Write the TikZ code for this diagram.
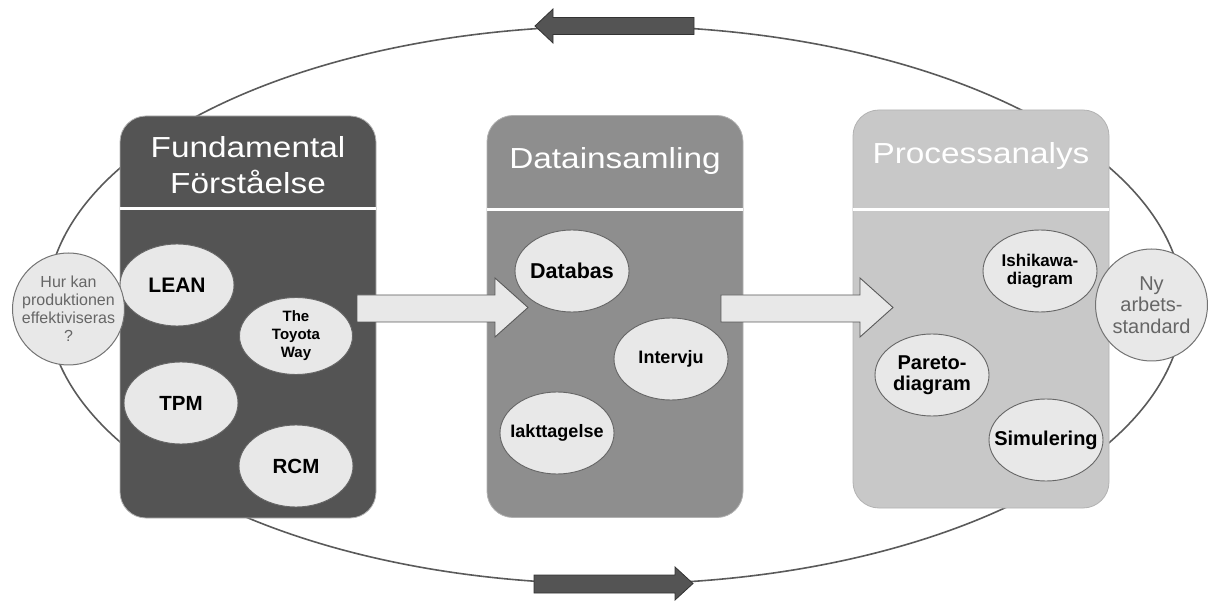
\documentclass[tikz,border=0pt]{standalone}
\usepackage{fontspec}
\setmainfont{Liberation Sans}
\newfontfamily\titlefont[FakeStretch=1.15]{Liberation Sans}
\usetikzlibrary{shapes.geometric}
\definecolor{cdark}{HTML}{545454}
\definecolor{cmid}{HTML}{8E8E8E}
\definecolor{clight}{HTML}{C8C8C8}
\definecolor{cpale}{HTML}{E8E8E8}
\definecolor{cline}{HTML}{5A5A5A}
\definecolor{ctext}{HTML}{666666}
\tikzset{
  phase/.style={fill=#1, draw=black!30, line width=0.8pt, rounded corners=26pt, minimum width=256pt, minimum height=402pt, inner sep=0pt},
  bubble/.style={ellipse, fill=cpale, draw=black!60, line width=0.9pt, minimum width=114pt, minimum height=82pt, inner xsep=-30pt, inner ysep=-15pt, align=center, font=\bfseries\fontsize{#1}{#1}\selectfont},
  bubble/.default=20,
  goal/.style={circle, fill=cpale, draw=black!55, line width=1pt, minimum size=112pt, inner sep=-12pt, align=center, text=ctext, font=\fontsize{#1}{#1}\selectfont},
  title/.style={text=white, align=center, font=\titlefont\fontsize{29}{29}\selectfont},
  divider/.style={draw=white, line width=3pt},
  block/.style={fill=cpale, draw=black!65, line width=0.9pt},
  flow/.style={fill=cdark, draw=black!80, line width=0.8pt},
}
\begin{document}
\begin{tikzpicture}[x=1pt, y=-1pt,
  orbit/.style={ellipse, draw=cline, line width=1.6pt, minimum width=1136pt, minimum height=558pt, inner sep=0pt}]
  \useasboundingbox (0,0) rectangle (1208,601);
  \node[orbit] (loop) at (615,305) {};
  % the three phases
  \node[phase=cdark] (b1) at (248,317) {};
  \node[phase=cmid] (b2) at (615,316.5) {};
  \node[phase=clight, minimum height=398pt] (b3) at (981,309) {};
  \draw[divider] (b1.west |- 0,209) -- (b1.east |- 0,209);
  \draw[divider] (b2.west |- 0,210) -- (b2.east |- 0,210);
  \draw[divider] (b3.west |- 0,210) -- (b3.east |- 0,210);
  \node[title] (t1) at (248,165) {Fundamental\\[7pt]Förståelse};
  \node[title] (t2) at (615,161) {Datainsamling};
  \node[title] (t3) at (981,156) {Processanalys};
  % contents
  \node[bubble=21] (lean) at (177,285) {LEAN};
  \node[bubble=15, minimum height=77pt, minimum width=113pt] (toyota) at (296,336) {The\\[3pt]Toyota\\[3pt]Way};
  \node[bubble=20.5] (tpm) at (181,403) {TPM};
  \node[bubble=20.5] (rcm) at (296,466) {RCM};
  \node[bubble=21.5] (db) at (572,271) {Databas};
  \node[bubble=18] (iv) at (671,359) {Intervju};
  \node[bubble=18] (ia) at (557,433) {Iakttagelse};
  \node[bubble=17] (ishi) at (1040,271) {Ishikawa-\\[0.5pt]diagram};
  \node[bubble=20] (par) at (932,375) {Pareto-\\[1.5pt]diagram};
  \node[bubble=20] (sim) at (1046,440) {Simulering};
  % block arrows between the phases
  \foreach \xa/\xb in {357/528, 721/893}
    \draw[block] (\xa,295) -- ({\xb-33},295) -- ({\xb-33},278) -- (\xb,307.5)
      -- ({\xb-33},337) -- ({\xb-33},322) -- (\xa,322) -- cycle;
  % start and goal
  \node[goal=16] (q) at (68.5,309) {Hur kan\\[2pt]produktionen\\[2pt]effektiviseras\\[2pt]?};
  \node[goal=20] (std) at (1151.5,305) {Ny\\[1.7pt]arbets-\\[1.7pt]standard};
  % direction of the loop
  \draw[flow] (694,17.5) -- (553,17.5) -- (553,9) -- (535,26) -- (553,43) -- (553,34.5) -- (694,34.5) -- cycle;
  \draw[flow] (534,575) -- (675,575) -- (675,567) -- (693,583.5) -- (675,600) -- (675,593) -- (534,593) -- cycle;
\end{tikzpicture}
\end{document}
